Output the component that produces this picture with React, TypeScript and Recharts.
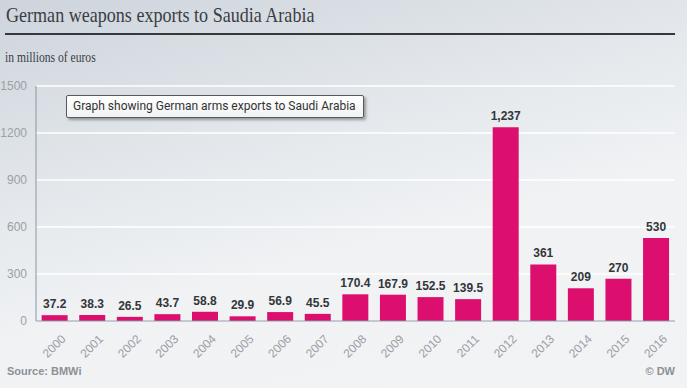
import React from "react";
import { BarChart, Bar, XAxis, YAxis, CartesianGrid, LabelList } from "recharts";

const years = ["2000","2001","2002","2003","2004","2005","2006","2007","2008","2009","2010","2011","2012","2013","2014","2015","2016"];
const exportsValues = [37.2, 38.3, 26.5, 43.7, 58.8, 29.9, 56.9, 45.5, 170.4, 167.9, 152.5, 139.5, 1237, 361, 209, 270, 530];
const valueLabels = ["37.2","38.3","26.5","43.7","58.8","29.9","56.9","45.5","170.4","167.9","152.5","139.5","1,237","361","209","270","530"];
const yTicks = [0, 300, 600, 900, 1200, 1500];

const data = years.map((y, i) => ({ year: y, value: exportsValues[i], label: valueLabels[i] }));

const XTick = (props: any) => {
  const { x, y, payload } = props;
  return (
    <g transform={`translate(${x + 6},${y + 5})`}>
      <text
        textAnchor="end"
        transform="rotate(-45)"
        fontSize={12}
        fill="#9aa0a6"
        fontFamily="Arial, 'Liberation Sans', sans-serif"
        dy={8}
      >
        {payload.value}
      </text>
    </g>
  );
};

export default function App() {
  return (
    <div
      style={{
        position: "absolute",
        left: 0,
        top: 0,
        width: 687,
        height: 388,
        overflow: "hidden",
        background: "linear-gradient(165deg, #cdd4dc 0%, #e3e7eb 35%, #f0f2f4 60%, #f2f3f5 100%)",
      }}
    >
      <div
        style={{
          position: "absolute",
          left: 6,
          top: 3,
          fontFamily: "'Liberation Serif', 'DejaVu Serif', serif",
          fontSize: 21,
          color: "#3a3d42",
          whiteSpace: "nowrap",
          transform: "scaleX(0.86)",
          transformOrigin: "left top",
        }}
      >
        German weapons exports to Saudia Arabia
      </div>
      <div style={{ position: "absolute", left: 5, top: 33, width: 670, height: 2, background: "#35383d" }} />
      <div
        style={{
          position: "absolute",
          left: 5,
          top: 50,
          fontFamily: "'Liberation Serif', 'DejaVu Serif', serif",
          fontSize: 14,
          color: "#3a3d42",
          whiteSpace: "nowrap",
          transform: "scaleX(0.83)",
          transformOrigin: "left top",
        }}
      >
        in millions of euros
      </div>
      <div style={{ position: "absolute", left: 0, top: 0 }}>
        <BarChart
          width={687}
          height={388}
          data={data}
          margin={{ top: 86, right: 12, bottom: 0, left: 0 }}
          barCategoryGap="15%"
        >
          <CartesianGrid vertical={false} stroke="#ffffff" strokeWidth={1.5} />
          <XAxis
            dataKey="year"
            tick={<XTick />}
            tickLine={false}
            axisLine={{ stroke: "#8b96a2" }}
            height={67}
            interval={0}
          />
          <YAxis
            width={36}
            domain={[0, 1500]}
            ticks={yTicks}
            tickLine={false}
            axisLine={{ stroke: "#8b96a2" }}
            tick={{ fontSize: 12, fill: "#9aa0a6", fontFamily: "Arial, 'Liberation Sans', sans-serif" }}
            tickMargin={3}
          />
          <Bar dataKey="value" fill="#dc0f6e" isAnimationActive={false}>
            <LabelList
              dataKey="label"
              position="top"
              offset={7}
              style={{ fontSize: 12, fontWeight: "bold", fill: "#33363a", fontFamily: "Arial, 'Liberation Sans', sans-serif" }}
            />
          </Bar>
        </BarChart>
      </div>
      <div
        style={{
          position: "absolute",
          left: 66,
          top: 95,
          width: 298,
          height: 23,
          boxSizing: "border-box",
          border: "1px solid #555a60",
          borderRadius: 2,
          background: "linear-gradient(#ffffff, #f1f2f3)",
          boxShadow: "2px 2px 3px rgba(0,0,0,0.35)",
          fontFamily: "Roboto, 'Open Sans', sans-serif",
          fontSize: 12,
          color: "#333",
          lineHeight: "21px",
          paddingLeft: 6,
          whiteSpace: "nowrap",
        }}
      >
        Graph showing German arms exports to Saudi Arabia
      </div>
      <div
        style={{
          position: "absolute",
          left: 7,
          top: 365,
          fontFamily: "Arial, 'Liberation Sans', sans-serif",
          fontSize: 11,
          fontWeight: "bold",
          color: "#8c9096",
        }}
      >
        Source: BMWi
      </div>
      <div
        style={{
          position: "absolute",
          right: 12,
          top: 365,
          fontFamily: "Arial, 'Liberation Sans', sans-serif",
          fontSize: 11,
          fontWeight: "bold",
          color: "#8c9096",
        }}
      >
        © DW
      </div>
    </div>
  );
}
